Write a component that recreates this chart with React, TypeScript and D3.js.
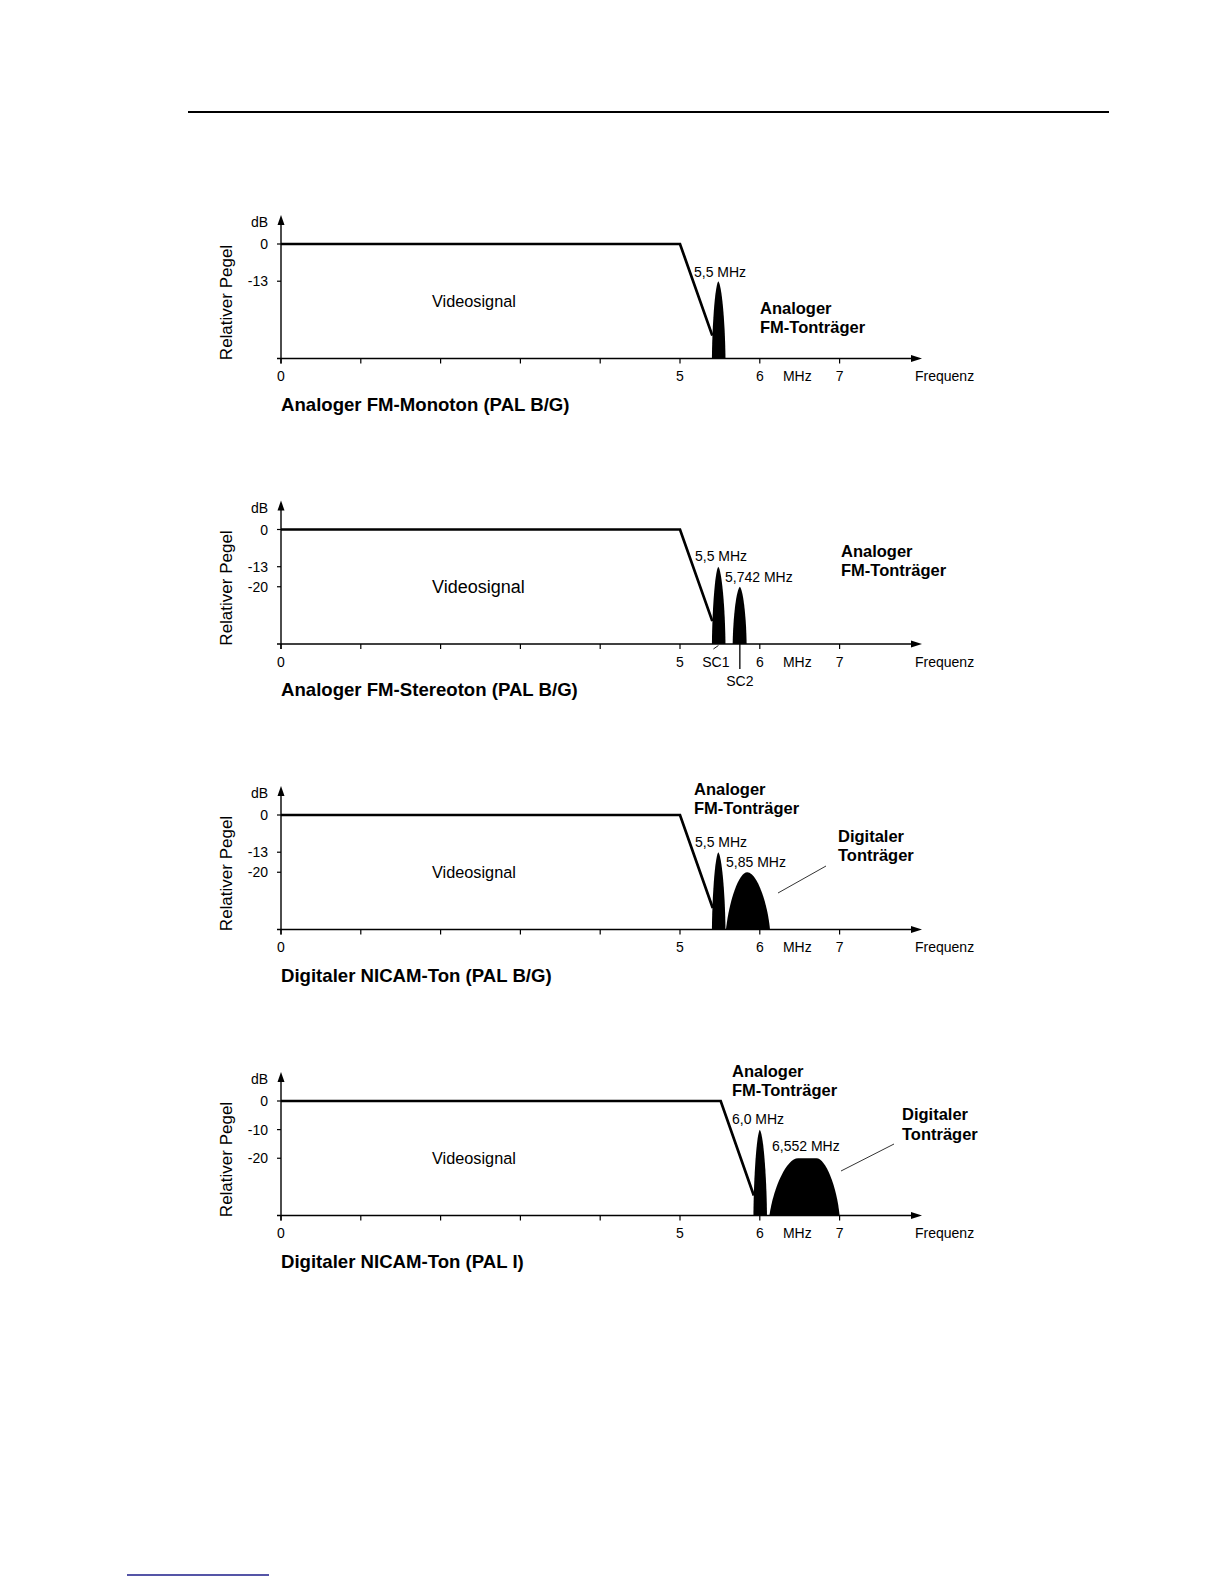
import * as d3 from 'd3';

const PAGE_W = 1224;
const PAGE_H = 1584;
const FONT = '"Liberation Sans", Arial, Helvetica, sans-serif';

// ---- values ----
const titles = [
  'Analoger FM-Monoton (PAL B/G)',
  'Analoger FM-Stereoton (PAL B/G)',
  'Digitaler NICAM-Ton (PAL B/G)',
  'Digitaler NICAM-Ton (PAL I)',
];

const xTicks = [0, 1, 2, 3, 4, 5, 6, 7];
const xLabeled = [0, 5, 6, 7];

const yTicks1 = [0, -13];
const yTicks2 = [0, -13, -20];
const yTicks3 = [0, -13, -20];
const yTicks4 = [0, -10, -20];

// video signal envelope: [MHz, dB]
const video1: [number, number][] = [[0, 0], [5, 0], [5.405, -32]];
const video2: [number, number][] = [[0, 0], [5, 0], [5.405, -32]];
const video3: [number, number][] = [[0, 0], [5, 0], [5.41, -32.5]];
const video4: [number, number][] = [[0, 0], [5.51, 0], [5.925, -33]];

type Lobe = {
  left: number;
  right: number;
  topFrom: number;
  topTo: number;
  level: number;
  kind: 'analog' | 'digital';
};

// sound carriers (base extent, top extent, level in dB)
const carriers1: Lobe[] = [
  { left: 5.4, right: 5.57, topFrom: 5.48, topTo: 5.48, level: -13, kind: 'analog' },
];
const carriers2: Lobe[] = [
  { left: 5.4, right: 5.57, topFrom: 5.48, topTo: 5.48, level: -13, kind: 'analog' },
  { left: 5.66, right: 5.835, topFrom: 5.75, topTo: 5.75, level: -20, kind: 'analog' },
];
const carriers3: Lobe[] = [
  { left: 5.4, right: 5.57, topFrom: 5.48, topTo: 5.48, level: -13, kind: 'analog' },
  { left: 5.576, right: 6.128, topFrom: 5.843, topTo: 5.843, level: -20, kind: 'digital' },
];
const carriers4: Lobe[] = [
  { left: 5.92, right: 6.09, topFrom: 6.0, topTo: 6.0, level: -10, kind: 'analog' },
  { left: 6.12, right: 7.0, topFrom: 6.48, topTo: 6.71, level: -20, kind: 'digital' },
];

// stereo subcarrier marks (panel 2)
const scLabels = ['SC1', 'SC2'];
const scFreqs = [5.45, 5.75];

const yTickSets = [yTicks1, yTicks2, yTicks3, yTicks4];
const videoSets = [video1, video2, video3, video4];
const carrierSets = [carriers1, carriers2, carriers3, carriers4];

// ---- layout ----
const ZERO_Y = [244, 529.5, 815, 1101];
const PLOT_H = 114.5;
const X0 = 281;
const PX_PER_MHZ = 79.8;
const AXIS_END = 922;

type Note = { t: string; x: number; dy: number; bold?: boolean };
const NOTES: Note[][] = [
  [
    { t: '5,5 MHz', x: 694, dy: 32.5 },
    { t: 'Analoger', x: 760, dy: 70, bold: true },
    { t: 'FM-Tonträger', x: 760, dy: 88.5, bold: true },
  ],
  [
    { t: '5,5 MHz', x: 695, dy: 31.5 },
    { t: '5,742 MHz', x: 725, dy: 52 },
    { t: 'Analoger', x: 841, dy: 27.5, bold: true },
    { t: 'FM-Tonträger', x: 841, dy: 46, bold: true },
  ],
  [
    { t: 'Analoger', x: 694, dy: -20, bold: true },
    { t: 'FM-Tonträger', x: 694, dy: -1.5, bold: true },
    { t: '5,5 MHz', x: 695, dy: 31.5 },
    { t: '5,85 MHz', x: 726, dy: 51.5 },
    { t: 'Digitaler', x: 838, dy: 26.5, bold: true },
    { t: 'Tonträger', x: 838, dy: 46, bold: true },
  ],
  [
    { t: 'Analoger', x: 732, dy: -24, bold: true },
    { t: 'FM-Tonträger', x: 732, dy: -5.5, bold: true },
    { t: '6,0 MHz', x: 732, dy: 23 },
    { t: '6,552 MHz', x: 772, dy: 50 },
    { t: 'Digitaler', x: 902, dy: 19, bold: true },
    { t: 'Tonträger', x: 902, dy: 38.5, bold: true },
  ],
];

// leader lines pointing at the digital carrier: [x1, dy1, x2, dy2]
const LEADERS: (number[] | null)[] = [null, null, [778, 78, 826, 51], [841, 70, 894, 43]];
const VIDEO_FONT = [16.3, 18, 16.3, 16.3];

function lobePath(c: Lobe, x: d3.ScaleLinear<number, number>, y: d3.ScaleLinear<number, number>, base: number) {
  const xl = x(c.left);
  const xr = x(c.right);
  const xa = x(c.topFrom);
  const xb = x(c.topTo);
  const yt = y(c.level);
  const h = base - yt;
  const wl = xa - xl;
  const wr = xr - xb;
  const p = d3.path();
  p.moveTo(xl, base);
  if (c.kind === 'analog') {
    // narrow spindle with a slightly pointed tip
    p.bezierCurveTo(xl + 0.06 * wl, base - 0.5 * h, xa - 0.45 * wl, yt + 0.04 * h, xa, yt);
    p.bezierCurveTo(xb + 0.45 * wr, yt + 0.04 * h, xr - 0.06 * wr, base - 0.5 * h, xr, base);
  } else {
    // broad rounded lobe
    p.bezierCurveTo(xl + 0.15 * wl, base - 0.5 * h, xa - 0.4 * wl, yt, xa, yt);
    if (xb > xa) p.lineTo(xb, yt);
    p.bezierCurveTo(xb + 0.4 * wr, yt, xr - 0.12 * wr, base - 0.5 * h, xr, base);
  }
  p.closePath();
  return p.toString();
}

function Panel({ i }: { i: number }) {
  const z = ZERO_Y[i];
  const base = z + PLOT_H;
  const x = d3.scaleLinear().domain([0, 7]).range([X0, X0 + 7 * PX_PER_MHZ]);
  const y = d3.scaleLinear().domain([-40, 0]).range([base, z]);
  const line = d3
    .line<[number, number]>()
    .x(d => x(d[0]))
    .y(d => y(d[1]));
  const leader = LEADERS[i];

  return (
    <g>
      {/* axis title */}
      <text
        transform={`translate(232, ${z + 58.5}) rotate(-90)`}
        textAnchor="middle"
        fontSize={17}
      >
        Relativer Pegel
      </text>

      {/* y axis with arrow */}
      <line x1={X0} x2={X0} y1={base + 5} y2={z - 22} stroke="#000" strokeWidth={1.4} />
      <polygon points={`${X0},${z - 29} ${X0 - 3.5},${z - 19} ${X0 + 3.5},${z - 19}`} fill="#000" />
      <text x={268} y={z - 17} textAnchor="end" fontSize={14}>dB</text>
      {yTickSets[i].map(v => (
        <g key={`yt-${v}`}>
          <line x1={X0 - 4} x2={X0} y1={y(v)} y2={y(v)} stroke="#000" strokeWidth={1.2} />
          <text x={268} y={y(v) + 5} textAnchor="end" fontSize={14}>{v}</text>
        </g>
      ))}

      {/* x axis with arrow */}
      <line x1={X0 - 4} x2={AXIS_END - 6} y1={base} y2={base} stroke="#000" strokeWidth={1.4} />
      <polygon
        points={`${AXIS_END},${base} ${AXIS_END - 11},${base - 3.5} ${AXIS_END - 11},${base + 3.5}`}
        fill="#000"
      />
      {xTicks.map(v => (
        <line key={`xt-${v}`} x1={x(v)} x2={x(v)} y1={base} y2={base + 5} stroke="#000" strokeWidth={1.2} />
      ))}
      {xLabeled.map(v => (
        <text key={`xl-${v}`} x={x(v)} y={base + 22.5} textAnchor="middle" fontSize={14}>{v}</text>
      ))}
      <text x={x(6.47)} y={base + 22.5} textAnchor="middle" fontSize={14}>MHz</text>
      <text x={915} y={base + 22.5} fontSize={14}>Frequenz</text>

      {/* stereo subcarrier marks */}
      {i === 1 && (
        <g>
          <line
            x1={x(scFreqs[0]) - 2.5}
            x2={x(scFreqs[0]) + 2.5}
            y1={base + 5}
            y2={base + 1.5}
            stroke="#000"
            strokeWidth={0.9}
          />
          <text x={x(scFreqs[0])} y={base + 22.5} textAnchor="middle" fontSize={14}>{scLabels[0]}</text>
          <line
            x1={x(scFreqs[1])}
            x2={x(scFreqs[1])}
            y1={base}
            y2={base + 25}
            stroke="#000"
            strokeWidth={1.3}
          />
          <text x={x(scFreqs[1])} y={base + 42} textAnchor="middle" fontSize={14}>{scLabels[1]}</text>
        </g>
      )}

      {/* carriers */}
      {carrierSets[i].map((c, k) => (
        <path key={`c-${k}`} d={lobePath(c, x, y, base)} fill="#000" />
      ))}

      {/* video signal */}
      <path
        d={line(videoSets[i]) ?? ''}
        fill="none"
        stroke="#000"
        strokeWidth={2.7}
        strokeLinejoin="miter"
      />

      <text x={432} y={z + 63} fontSize={VIDEO_FONT[i]}>Videosignal</text>

      {NOTES[i].map((n, k) => (
        <text
          key={`n-${k}`}
          x={n.x}
          y={z + n.dy}
          fontSize={n.bold ? 16.5 : 14}
          fontWeight={n.bold ? 700 : 400}
        >
          {n.t}
        </text>
      ))}
      {leader && (
        <line
          x1={leader[0]}
          y1={z + leader[1]}
          x2={leader[2]}
          y2={z + leader[3]}
          stroke="#000"
          strokeWidth={0.8}
        />
      )}

      <text x={X0} y={base + 52} fontSize={18.6} fontWeight={700}>{titles[i]}</text>
    </g>
  );
}

export default function App() {
  return (
    <div style={{ position: 'absolute', left: 0, top: 0 }}>
      <svg
        width={PAGE_W}
        height={PAGE_H}
        viewBox={`0 0 ${PAGE_W} ${PAGE_H}`}
        style={{ display: 'block', background: '#fff', fontFamily: FONT }}
      >
        <rect x={0} y={0} width={PAGE_W} height={PAGE_H} fill="#fff" />
        <line x1={188} x2={1109} y1={112} y2={112} stroke="#000" strokeWidth={2.2} />
        {titles.map((_, i) => (
          <Panel key={i} i={i} />
        ))}
        <line x1={127} x2={269} y1={1575} y2={1575} stroke="#1c1c8a" strokeWidth={1.6} />
      </svg>
    </div>
  );
}
